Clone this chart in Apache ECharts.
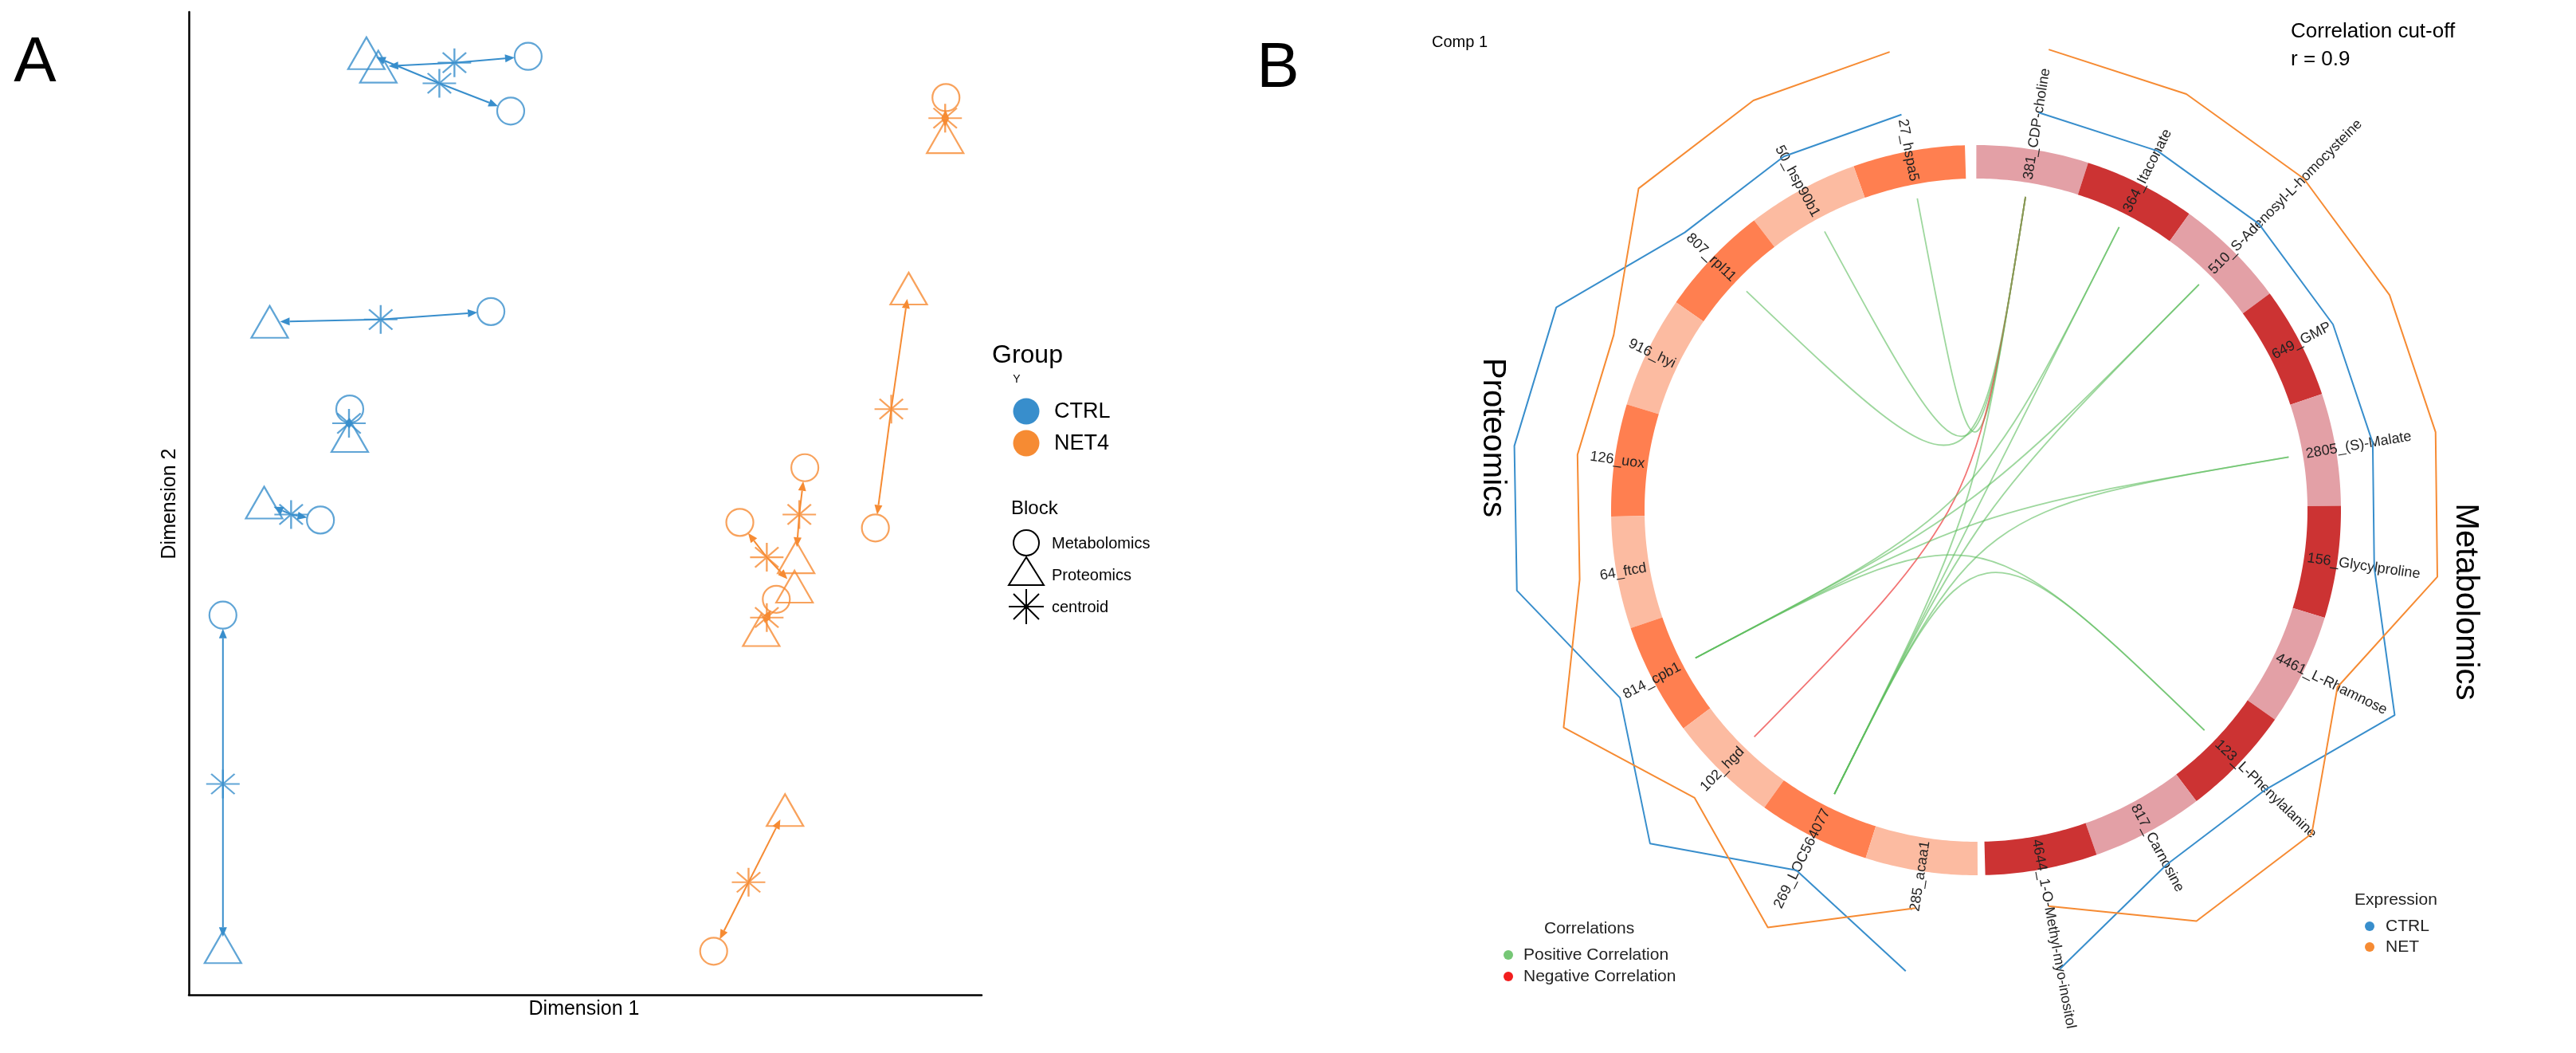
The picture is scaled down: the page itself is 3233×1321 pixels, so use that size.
<!DOCTYPE html>
<html><head><meta charset="utf-8">
<script src="https://cdn.jsdelivr.net/npm/echarts@6/dist/echarts.min.js"></script>
<style>html,body{margin:0;padding:0;background:#fff}#c{width:3233px;height:1321px}</style>
</head><body><div id="c"></div>
<script>
// ---------------- Panel A data: [Dimension 1, Dimension 2] ----------------
const ctrlMetabolomics = [[-0.72,5.64],[-0.94,4.95],[-1.19,2.42],[-2.97,1.19],[-3.34,-0.21],[-4.57,-1.41]];
const ctrlProteomics   = [[-2.61,5.51],[-2.76,5.68],[-3.98,2.29],[-2.97,0.85],[-4.05,0.01],[-4.57,-5.60]];
const ctrlCentroid     = [[-1.65,5.56],[-1.84,5.30],[-2.58,2.32],[-2.98,1.01],[-3.71,-0.14],[-4.57,-3.54]];
const netMetabolomics  = [[4.55,5.12],[3.66,-0.31],[2.77,0.45],[1.95,-0.24],[2.41,-1.21],[1.62,-5.65]];
const netProteomics    = [[4.54,4.62],[4.08,2.71],[2.66,-0.68],[2.64,-1.05],[2.22,-1.60],[2.52,-3.87]];
const netCentroid      = [[4.54,4.86],[3.86,1.19],[2.70,-0.14],[2.29,-0.68],[2.29,-1.44],[2.06,-4.78]];
const groupNames = ['CTRL','NET4'];
const blockNames = ['Metabolomics','Proteomics','centroid'];

// ---------------- Panel B data ----------------
const metaboliteNames = ['381_CDP-choline','364_Itaconate','510_S-Adenosyl-L-homocysteine','649_GMP','2805_(S)-Malate',
  '156_Glycylproline','4461_L-Rhamnose','123_L-Phenylalanine','817_Carnosine','4644_1-O-Methyl-myo-inositol'];
const proteinNames = ['27_hspa5','50_hsp90b1','807_rpl11','916_hyi','126_uox','64_ftcd','814_cpb1','102_hgd','269_LOC564077','285_acaa1'];
// scaled mean expression (0 = lower group, 1 = higher group)
const metabExprCTRL = [0,0,0,0,0,0,1,0,0,1];
const metabExprNET  = [1,1,1,1,1,1,0,1,1,0];
const protExprCTRL  = [0,0,0,1,1,1,0,1,0,1];
const protExprNET   = [1,1,1,0,0,0,1,0,1,0];
// correlations above cut-off (protein, metabolite, r)
const corrProtein    = ['27_hspa5','50_hsp90b1','807_rpl11','102_hgd','269_LOC564077','814_cpb1','269_LOC564077','814_cpb1','269_LOC564077','814_cpb1','269_LOC564077','814_cpb1','269_LOC564077'];
const corrMetabolite = ['381_CDP-choline','381_CDP-choline','381_CDP-choline','381_CDP-choline','381_CDP-choline','2805_(S)-Malate','2805_(S)-Malate','364_Itaconate','364_Itaconate','510_S-Adenosyl-L-homocysteine','510_S-Adenosyl-L-homocysteine','123_L-Phenylalanine','123_L-Phenylalanine'];
const corrValue      = [0.92,0.91,0.91,-0.91,0.94,0.93,0.92,0.91,0.92,0.91,0.92,0.91,0.91];

// ---------------- styles / layout ----------------
const FONT = 'Liberation Sans, Arial, Helvetica, sans-serif';
const CTRL_COLOR = '#388ECC', NET_COLOR = '#F68B33';
const CX = 2480, CY = 640, POLAR_R = 600;
const RING_IN = 416, RING_OUT = 458, CHORD_R = 398, LABEL_R = 420, EXPR_R0 = 505, EXPR_SPAN = 80;
const ROT = -0.85, HALF_GAP = 0.9, SEG = 17.85;
const metabAngle = (i, f) => ROT + HALF_GAP + (i + f) * SEG;
const protAngle  = (j, f) => 360 + ROT - HALF_GAP - (j + f) * SEG;
const PROT_COLORS = ['#FF7F50', '#FCBBA1'];
const METAB_COLORS = ['#E3A0A6', '#CC3333'];

const segments = [];
metaboliteNames.forEach((n, i) => segments.push({name:n, a0:metabAngle(i,0), a1:metabAngle(i,1), mid:metabAngle(i,0.5), side:'R', color:METAB_COLORS[i%2]}));
proteinNames.forEach((n, j) => segments.push({name:n, a0:protAngle(j,1), a1:protAngle(j,0), mid:protAngle(j,0.5), side:'L', color:PROT_COLORS[j%2]}));
const angleOf = {}; segments.forEach(s => angleOf[s.name] = s.mid);

function ts(o){
  const st = Object.assign({fontFamily: FONT, fill:'#000'}, o);
  st.textFill = st.fill; if (st.align) st.textAlign = st.align; if (st.verticalAlign) st.textVerticalAlign = st.verticalAlign;
  st.font = (st.fontWeight||'normal') + ' ' + st.fontSize + 'px ' + FONT;
  return st;
}
function txt(text, x, y, size, opt){
  opt = opt || {};
  return {type:'text', x:x, y:y, rotation:opt.rotation||0, silent:true, z:50,
    style: ts({text:text, fontSize:size, fill:opt.fill||'#000', align:opt.align||'left', verticalAlign:'middle', fontWeight:opt.weight})};
}
function seg(x1,y1,x2,y2){ return {type:'line', shape:{x1:x1,y1:y1,x2:x2,y2:y2}, style:{stroke:'#000', lineWidth:2}, silent:true}; }

// ---------------- Panel A series ----------------
const STAR = 'path://M0,-10L0,10M-10,0L10,0M-7,-7L7,7M-7,7L7,-7';
function scatter(data, color, symbol, size){
  return {type:'scatter', xAxisIndex:0, yAxisIndex:0, data:data, symbol:symbol, symbolSize:size, silent:true, z:5,
    itemStyle:{color:'rgba(0,0,0,0)', borderColor:color, borderWidth:2.2}};
}
function arrows(cent, metab, prot, color){
  const data = [];
  cent.forEach((c, i) => { data.push([c[0], c[1], metab[i][0], metab[i][1], 0]); data.push([c[0], c[1], prot[i][0], prot[i][1], 1]); });
  return {type:'custom', xAxisIndex:0, yAxisIndex:0, data:data, encode:{x:[0,2], y:[1,3]}, silent:true, z:3,
    renderItem:function(params, api){
      const c = api.coord([api.value(0), api.value(1)]);
      const p = api.coord([api.value(2), api.value(3)]);
      const dx = p[0]-c[0], dy = p[1]-c[1]; const len = Math.hypot(dx, dy) || 1;
      const ux = dx/len, uy = dy/len;
      const gap = Math.min(api.value(4) === 0 ? 17 : 13, len*0.6);
      const tx = p[0]-ux*gap, ty = p[1]-uy*gap;
      const ah = Math.min(12, Math.max(len-gap, 4)), aw = 5;
      const bx = tx-ux*ah, by = ty-uy*ah;
      return {type:'group', children:[
        {type:'line', shape:{x1:c[0], y1:c[1], x2:bx, y2:by}, style:{stroke:color, lineWidth:2}},
        {type:'polygon', shape:{points:[[tx,ty],[bx-uy*aw, by+ux*aw],[bx+uy*aw, by-ux*aw]]}, style:{fill:color}}
      ]};
    }};
}

// ---------------- Panel B series ----------------
const ringSeries = {type:'custom', coordinateSystem:'polar', silent:true, z:2,
  data: segments.map(s => [RING_OUT, s.mid]),
  renderItem:function(params, api){
    const s = segments[params.dataIndex]; const pts = []; const n = 30;
    for (let k=0;k<=n;k++){ pts.push(api.coord([RING_OUT, s.a0+(s.a1-s.a0)*k/n])); }
    for (let k=n;k>=0;k--){ pts.push(api.coord([RING_IN, s.a0+(s.a1-s.a0)*k/n])); }
    return {type:'polygon', shape:{points:pts}, style:{fill:s.color}};
  }};
const labelSeries = {type:'custom', coordinateSystem:'polar', silent:true, z:4,
  data: segments.map(s => [LABEL_R, s.mid]),
  renderItem:function(params, api){
    const s = segments[params.dataIndex];
    const p = api.coord([LABEL_R, s.mid]);
    const rot = (s.side === 'R' ? (90 - s.mid) : (270 - s.mid)) * Math.PI / 180;
    return {type:'text', x:p[0], y:p[1], rotation:rot,
      style: ts({text:s.name, fontSize:18, fill:'#222', align: s.side === 'R' ? 'left' : 'right', verticalAlign:'middle'})};
  }};
const chordSeries = {type:'custom', coordinateSystem:'polar', silent:true, z:3,
  data: corrValue.map((v, k) => [CHORD_R, angleOf[corrProtein[k]]]),
  renderItem:function(params, api){
    const k = params.dataIndex;
    const P = api.coord([CHORD_R, angleOf[corrProtein[k]]]);
    const Q = api.coord([CHORD_R, angleOf[corrMetabolite[k]]]);
    const C = api.coord([0, 0]);
    const pos = corrValue[k] > 0;
    return {type:'bezierCurve', shape:{x1:P[0], y1:P[1], x2:Q[0], y2:Q[1], cpx1:C[0], cpy1:C[1], cpx2:C[0], cpy2:C[1]},
      style:{fill:null, stroke: pos ? 'rgba(92,188,92,0.6)' : 'rgba(238,70,70,0.75)', lineWidth:1.8}};
  }};
function exprLine(levels, angleFn, color){
  return {type:'line', coordinateSystem:'polar', silent:true, z:6, symbol:'none', animation:false,
    data: levels.map((v, i) => [EXPR_R0 + v*EXPR_SPAN, angleFn(i, 0.5)]),
    lineStyle:{color:color, width:2}};
}

// ---------------- graphics (titles, legends) ----------------
const graphics = [
  txt('A', 44, 80, 80, {align:'center'}),
  txt('B', 1604, 87, 80, {align:'center'}),
  txt('Dimension 1', 733, 1266, 25, {align:'center'}),
  txt('Dimension 2', 213, 632, 25, {align:'center', rotation:Math.PI/2}),
  txt('Group', 1245, 446, 32),
  txt('Y', 1276, 476, 14, {align:'center'}),
  {type:'circle', shape:{cx:1288, cy:516, r:16.5}, style:{fill:CTRL_COLOR}, silent:true},
  {type:'circle', shape:{cx:1288, cy:556, r:16.5}, style:{fill:NET_COLOR}, silent:true},
  txt(groupNames[0], 1323, 517, 27),
  txt(groupNames[1], 1323, 557, 27),
  txt('Block', 1269, 638, 24),
  {type:'circle', shape:{cx:1288, cy:681, r:16}, style:{fill:'none', stroke:'#000', lineWidth:2}, silent:true},
  {type:'polygon', shape:{points:[[1288,699],[1266,734],[1310,734]]}, style:{fill:'none', stroke:'#000', lineWidth:2}, silent:true},
  seg(1288,739,1288,783), seg(1266,761,1310,761), seg(1272,745,1304,777), seg(1272,777,1304,745),
  {type:'circle', shape:{cx:1288, cy:761, r:3}, style:{fill:'#000'}, silent:true},
  txt(blockNames[0], 1320, 682, 20),
  txt(blockNames[1], 1320, 722, 20),
  txt(blockNames[2], 1320, 762, 20),
  txt('Comp 1', 1867, 53, 20, {align:'right'}),
  txt('Correlation cut-off', 2875, 40, 26),
  txt('r = 0.9', 2875, 75, 26),
  txt('Proteomics', 1873, 549, 40, {align:'center', rotation:-Math.PI/2}),
  txt('Metabolomics', 3094, 755, 40, {align:'center', rotation:-Math.PI/2}),
  txt('Correlations', 1938, 1165, 21, {fill:'#222'}),
  {type:'circle', shape:{cx:1893, cy:1198, r:6}, style:{fill:'#76C776'}, silent:true},
  {type:'circle', shape:{cx:1893, cy:1225, r:6}, style:{fill:'#F21E1E'}, silent:true},
  txt('Positive Correlation', 1912, 1198, 21, {fill:'#222'}),
  txt('Negative Correlation', 1912, 1225, 21, {fill:'#222'}),
  txt('Expression', 2955, 1129, 21, {fill:'#222'}),
  {type:'circle', shape:{cx:2974, cy:1162, r:6}, style:{fill:CTRL_COLOR}, silent:true},
  {type:'circle', shape:{cx:2974, cy:1188, r:6}, style:{fill:NET_COLOR}, silent:true},
  txt('CTRL', 2994, 1162, 21, {fill:'#222'}),
  txt('NET', 2994, 1188, 21, {fill:'#222'})
];

const axisCommon = {type:'value', axisTick:{show:false}, axisLabel:{show:false}, splitLine:{show:false},
  axisLine:{show:true, onZero:false, lineStyle:{color:'#000', width:2.5}}};

const option = {
  backgroundColor:'#fff',
  animation:false,
  grid:{left:237, top:15, width:995, height:1233},
  xAxis:Object.assign({min:-5, max:5}, axisCommon),
  yAxis:Object.assign({min:-6.2, max:6.2}, axisCommon),
  polar:{center:[CX, CY], radius:POLAR_R},
  angleAxis:{type:'value', min:0, max:360, startAngle:90, clockwise:true, show:false},
  radiusAxis:{type:'value', min:0, max:POLAR_R, show:false},
  graphic:{elements:graphics},
  series:[
    arrows(ctrlCentroid, ctrlMetabolomics, ctrlProteomics, CTRL_COLOR),
    arrows(netCentroid, netMetabolomics, netProteomics, NET_COLOR),
    scatter(ctrlMetabolomics, CTRL_COLOR, 'circle', 34),
    scatter(ctrlProteomics, CTRL_COLOR, 'triangle', [46,40]),
    scatter(ctrlCentroid, CTRL_COLOR, STAR, [42,36]),
    scatter(netMetabolomics, NET_COLOR, 'circle', 34),
    scatter(netProteomics, NET_COLOR, 'triangle', [46,40]),
    scatter(netCentroid, NET_COLOR, STAR, [42,36]),
    ringSeries, chordSeries, labelSeries,
    exprLine(metabExprCTRL, metabAngle, CTRL_COLOR),
    exprLine(metabExprNET, metabAngle, NET_COLOR),
    exprLine(protExprCTRL, protAngle, CTRL_COLOR),
    exprLine(protExprNET, protAngle, NET_COLOR)
  ]
};
const chart = echarts.init(document.getElementById('c'), null, {renderer:'canvas', width:3233, height:1321});
chart.setOption(option);
</script></body></html>
